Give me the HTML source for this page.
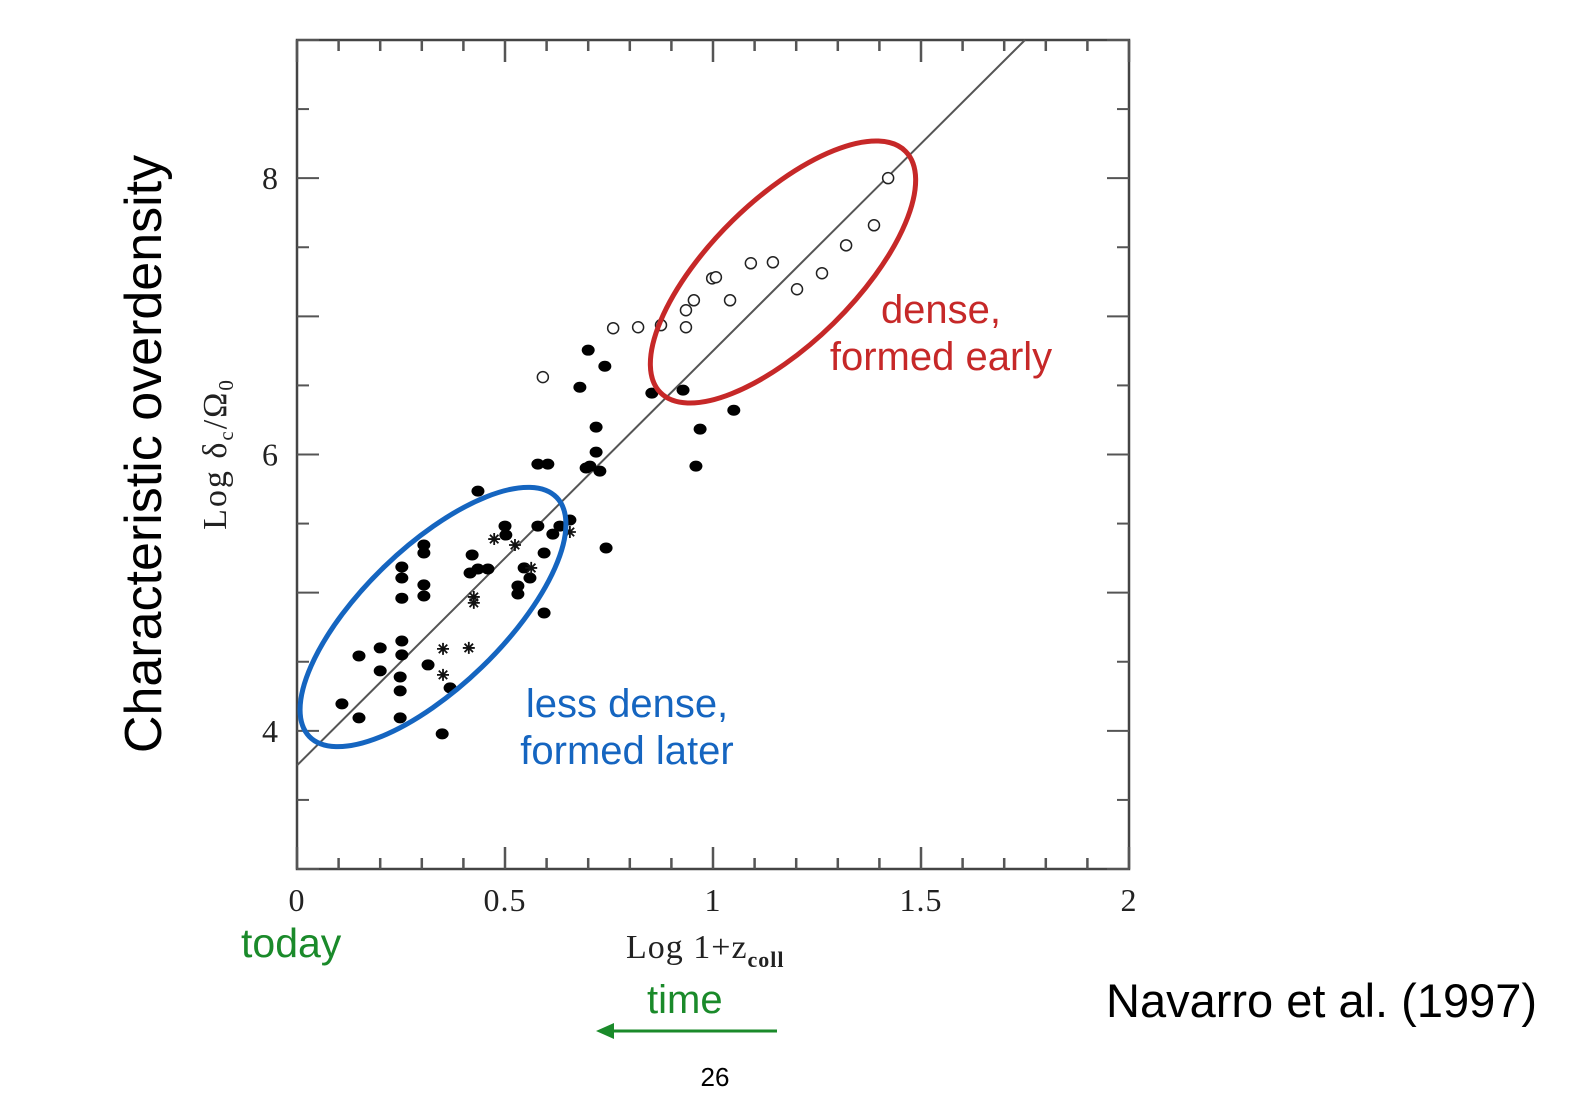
<!DOCTYPE html>
<html><head><meta charset="utf-8"><style>
body{margin:0;background:#fff;width:1574px;height:1096px;overflow:hidden}
svg text{font-family:"Liberation Serif",serif}
.sans{font-family:"Liberation Sans",sans-serif}
</style></head><body>
<svg id="chart" width="1574" height="1096" xmlns="http://www.w3.org/2000/svg">
<g id="axes"></g>
<g id="marks"></g>
<text class="sans" transform="translate(161,454) rotate(-90)" text-anchor="middle" font-size="52" fill="#000">Characteristic overdensity</text>
<text transform="translate(226,454) rotate(-90)" text-anchor="middle" font-size="34" letter-spacing="2" fill="#222">Log  δ<tspan font-size="21" dy="7">c</tspan><tspan dy="-7">/Ω</tspan><tspan font-size="21" dy="7">0</tspan></text>
<text x="626" y="958" font-size="34" letter-spacing="1" fill="#222">Log  1+z<tspan font-size="22" font-weight="bold" dy="9">coll</tspan></text>
<text class="sans" x="241" y="957" font-size="41" fill="#1a8a2a">today</text>
<text class="sans" x="647" y="1013" font-size="40" fill="#1a8a2a">time</text>
<line x1="777" y1="1031" x2="610" y2="1031" stroke="#1a8a2a" stroke-width="3"/>
<polygon points="596,1031 614,1023 614,1039" fill="#1a8a2a"/>
<text class="sans" x="1106" y="1017" font-size="47" fill="#000">Navarro et al. (1997)</text>
<text class="sans" x="715" y="1086" text-anchor="middle" font-size="26" fill="#000">26</text>
<ellipse cx="433" cy="617" rx="172" ry="70" transform="rotate(-44 433 617)" fill="none" stroke="#1565c0" stroke-width="5"/>
<ellipse cx="783" cy="272" rx="172" ry="72" transform="rotate(-44.5 783 272)" fill="none" stroke="#c62828" stroke-width="5"/>
<text class="sans" x="627" y="717" text-anchor="middle" font-size="40" fill="#1565c0">less dense,</text>
<text class="sans" x="627" y="764" text-anchor="middle" font-size="40" fill="#1565c0">formed later</text>
<text class="sans" x="941" y="323" text-anchor="middle" font-size="40" fill="#c62828">dense,</text>
<text class="sans" x="941" y="370" text-anchor="middle" font-size="40" fill="#c62828">formed early</text>
</svg>
<script>
const filledX=[0.108,0.149,0.149,0.2,0.2,0.248,0.248,0.248,0.252,0.252,0.252,0.252,0.252,0.305,0.305,0.305,0.305,0.315,0.349,0.368,0.421,0.416,0.435,0.435,0.459,0.5,0.502,0.531,0.531,0.546,0.56,0.594,0.594,0.579,0.579,0.603,0.615,0.632,0.656,0.68,0.7,0.695,0.704,0.719,0.719,0.728,0.74,0.743,0.853,0.928,0.969,0.959,1.05];
const filledY=[4.195,4.094,4.542,4.6,4.434,4.094,4.289,4.39,4.55,4.65,4.96,5.106,5.186,5.345,5.287,5.056,4.976,4.477,3.978,4.311,5.273,5.142,5.735,5.171,5.171,5.482,5.417,4.99,5.048,5.179,5.106,4.853,5.287,5.482,5.93,5.93,5.424,5.482,5.526,6.487,6.755,5.902,5.916,6.017,6.198,5.88,6.639,5.323,6.444,6.466,6.184,5.916,6.32];
const openX=[0.591,0.76,0.82,0.875,0.935,0.935,0.954,0.998,1.007,1.041,1.091,1.144,1.202,1.262,1.32,1.387,1.421];
const openY=[6.56,6.914,6.921,6.936,6.921,7.044,7.116,7.275,7.283,7.116,7.384,7.391,7.196,7.312,7.514,7.659,8.0];
const starX=[0.351,0.351,0.413,0.425,0.425,0.474,0.524,0.563,0.656];
const starY=[4.593,4.405,4.6,4.969,4.926,5.388,5.345,5.179,5.439];
const fitIntercept=3.75, fitSlope=3.0;
const xTickLabels=["0","0.5","1","1.5","2"];
const yTickLabels=["4","6","8"];

const NS="http://www.w3.org/2000/svg";
const X0=297,X1=1129,Y0=869,Y1=40,xmin=0,xmax=2,ymin=3,ymax=9;
const sx=v=>X0+(v-xmin)/(xmax-xmin)*(X1-X0);
const sy=v=>Y0-(v-ymin)/(ymax-ymin)*(Y0-Y1);
function mk(t,a,p){const e=document.createElementNS(NS,t);for(const k in a)e.setAttribute(k,a[k]);p.appendChild(e);return e;}
const axes=document.getElementById('axes'),marks=document.getElementById('marks');
const frame=mk('rect',{x:X0,y:Y1,width:X1-X0,height:Y0-Y1,fill:'none',stroke:'#444','stroke-width':2.5},axes);


for(let i=0;i<=20;i++){const v=i*0.1,x=sx(v),L=(i%5==0)?22:11;
 const t1=mk('line',{x1:x,y1:Y1,x2:x,y2:Y1+L,stroke:'#555','stroke-width':2.5},axes);
 
 
 const t2=mk('line',{x1:x,y1:Y0,x2:x,y2:Y0-L,stroke:'#555','stroke-width':2.5},axes);
 
 }
xTickLabels.forEach(s=>{const v=parseFloat(s);const t=mk('text',{x:sx(v),y:911,'text-anchor':'middle','font-size':32,'letter-spacing':1,fill:'#222'},axes);t.textContent=s;
 
 });
for(let i=0;i<=12;i++){const v=3+i*0.5,y=sy(v),L=(i%2==0)?22:12;
 const t1=mk('line',{x1:X0,y1:y,x2:X0+L,y2:y,stroke:'#555','stroke-width':2},axes);
 
 
 const t2=mk('line',{x1:X1,y1:y,x2:X1-L,y2:y,stroke:'#555','stroke-width':2},axes);
 
 }
yTickLabels.forEach(s=>{const v=parseFloat(s);const t=mk('text',{x:278,y:sy(v)+11,'text-anchor':'end','font-size':32,fill:'#222'},axes);t.textContent=s;
 
 });
const xe=(ymax-fitIntercept)/fitSlope;
const fl=mk('line',{x1:sx(0),y1:sy(fitIntercept),x2:sx(xe),y2:sy(ymax),stroke:'#555','stroke-width':2},marks);


filledX.forEach((v,i)=>{const c=mk('ellipse',{cx:sx(v),cy:sy(filledY[i]),rx:6.5,ry:5.5,fill:'#000'},marks);
 
 });
openX.forEach((v,i)=>{const c=mk('circle',{cx:sx(v),cy:sy(openY[i]),r:5.5,fill:'#fff',stroke:'#222','stroke-width':1.5},marks);
 
 });
starX.forEach((v,i)=>{const x=sx(v),y=sy(starY[i]);let d='';
 for(let k=0;k<4;k++){const a=k*Math.PI/4,dx=6*Math.cos(a),dy=6*Math.sin(a);d+=`M${x-dx},${y-dy}L${x+dx},${y+dy}`;}
 const p=mk('path',{d:d,stroke:'#111','stroke-width':1.8},marks);
 
 });
</script>
</body></html>
